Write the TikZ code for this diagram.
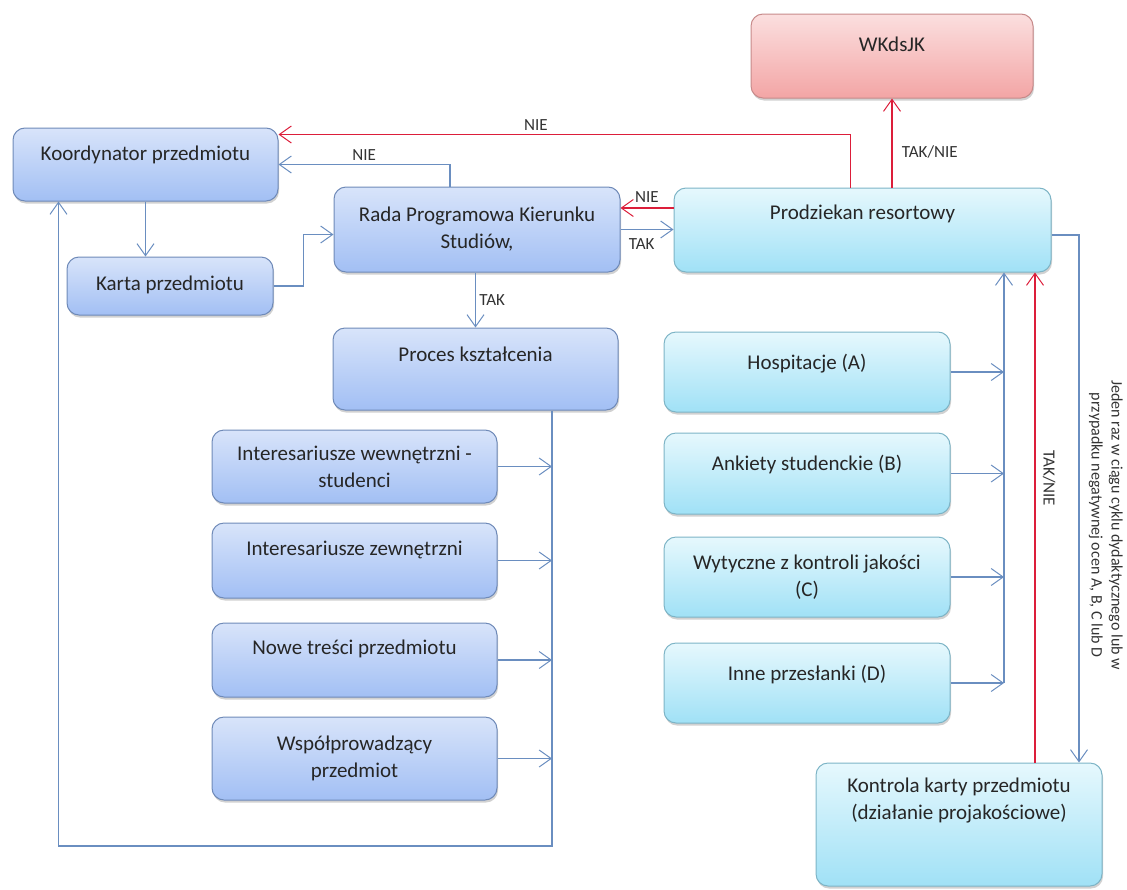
\documentclass[tikz,border=0pt]{standalone}
\usepackage{fontspec}
\setmainfont{Carlito}
\usetikzlibrary{arrows.meta}
\usetikzlibrary{shadows}

\definecolor{bluetop}{HTML}{D8E4FA}
\definecolor{bluebot}{HTML}{A2BFF4}
\definecolor{blueedge}{HTML}{6F8AB8}
\definecolor{cyantop}{HTML}{E6F8FD}
\definecolor{cyanbot}{HTML}{A0E1F6}
\definecolor{cyanedge}{HTML}{7DB4C6}
\definecolor{redtop}{HTML}{FBDFDF}
\definecolor{redbot}{HTML}{F3A5A5}
\definecolor{rededge}{HTML}{C78A8A}
\definecolor{linkblue}{HTML}{6A8EC0}
\definecolor{linkred}{HTML}{DC1E3A}

\tikzset{
  boxbase/.style={rounded corners=12pt, line width=1pt, align=center,
    font=\fontsize{21}{27}\selectfont, text=black!85,
    drop shadow={shadow xshift=1pt, shadow yshift=-2.5pt, opacity=.3, fill=black!60}},
  bluebox/.style={boxbase, draw=blueedge, top color=bluetop, bottom color=bluebot},
  cyanbox/.style={boxbase, draw=cyanedge, top color=cyantop, bottom color=cyanbot},
  redbox/.style={boxbase, draw=rededge, top color=redtop, bottom color=redbot},
  lift/.style={text height=16pt, text depth=#1},
  link/.style={draw=linkblue, line width=1.1pt, ->},
  nolink/.style={draw=linkred, line width=1.1pt, ->},
  lbl/.style={font=\fontsize{17}{20}\selectfont, text=black!80},
  note/.style={font=\fontsize{16}{20}\selectfont, text=black!80, align=center},
  >={Straight Barb[length=12pt,width=17pt,line width=1pt]}
}

\begin{document}
\begin{tikzpicture}[x=1pt, y=-1pt]
  \useasboundingbox (0,0) rectangle (1127,889);

  % left column
  \node[redbox, lift=26pt, minimum width=282pt, minimum height=84pt] (wkds) at (892,56) {WKdsJK};
  \node[bluebox, lift=25pt, minimum width=265pt, minimum height=73pt] (koord) at (145.5,164.5) {Koordynator przedmiotu};
  \node[bluebox, lift=8pt, minimum width=206pt, minimum height=58pt] (karta) at (170,286) {Karta przedmiotu};
  \node[bluebox, minimum width=286pt, minimum height=85pt] (rada) at (477,229.5) {Rada Programowa Kierunku\\Studiów,};
  \node[cyanbox, lift=38pt, minimum width=377pt, minimum height=84pt] (prodz) at (862.5,230) {Prodziekan resortowy};
  \node[bluebox, lift=32pt, minimum width=285pt, minimum height=82pt] (proces) at (475.5,369) {Proces kształcenia};

  \node[bluebox, minimum width=285pt, minimum height=73pt] (int1) at (354.5,466.5) {Interesariusze wewnętrzni -\\studenci};
  \node[bluebox, lift=27pt, minimum width=285pt, minimum height=75pt] (int2) at (354.5,560.5) {Interesariusze zewnętrzni};
  \node[bluebox, lift=27pt, minimum width=285pt, minimum height=74pt] (nowe) at (354.5,660) {Nowe treści przedmiotu};
  \node[bluebox, minimum width=285pt, minimum height=83pt] (wspol) at (354.5,758.5) {Współprowadzący\\przedmiot};

  % right column
  \node[cyanbox, lift=22pt, minimum width=286pt, minimum height=80pt] (hosp) at (807,372) {Hospitacje (A)};
  \node[cyanbox, lift=23pt, minimum width=286pt, minimum height=81pt] (ankiety) at (807,473.5) {Ankiety studenckie (B)};
  \node[cyanbox, minimum width=286pt, minimum height=80pt] (wytyczne) at (807,577) {Wytyczne z kontroli jakości\\(C)};
  \node[cyanbox, lift=22pt, minimum width=286pt, minimum height=80pt] (inne) at (807,683) {Inne przesłanki (D)};
  \node[cyanbox, text depth=52pt, minimum width=286pt, minimum height=123pt] (kontrola) at (959,824.5) {Kontrola karty przedmiotu\\(działanie projakościowe)};

  \coordinate (bus) at (552,846);
  \coordinate (col) at (1004,683);

  \draw[link] (koord) -- (koord |- karta.north);
  \draw[link] (karta.east) -- ++(30,0) |- ([yshift=-5pt]rada.west);
  \draw[link] ([xshift=-27pt]rada.north) |- (koord.east) node[lbl, pos=0.75, above] {NIE};
  \draw[nolink] ([xshift=-12pt]prodz.north) |- ([yshift=30pt]koord.east) node[lbl, pos=0.775, above] {NIE};
  \draw[nolink] (wkds |- prodz.north) -- (wkds.south) node[lbl, pos=0.4, right=6pt] {TAK/NIE};
  \draw[nolink] ([yshift=22pt]prodz.west) -- ([yshift=22pt]prodz.west -| rada.east) node[lbl, midway, above=2pt] {NIE};
  \draw[link] (rada.east) -- (rada.east -| prodz.west) node[lbl, pos=0.4, below=5pt] {TAK};
  \draw[link] (proces |- rada.south) -- (proces.north) node[lbl, midway, right] {TAK};

  \draw[link] (proces.south -| bus) -- (bus) -| ([xshift=46pt]koord.south west);
  \foreach \n in {int1,int2,nowe,wspol}
    \draw[link] (\n.east) -- (\n.east -| bus);

  \draw[link] (col) -- (col |- prodz.south);
  \foreach \n in {hosp,ankiety,wytyczne,inne}
    \draw[link] (\n.east) -- (\n.east -| col);

  \draw[nolink] ([xshift=76pt]kontrola.north) -- ([xshift=76pt]kontrola.north |- prodz.south) node[lbl, pos=0.58, rotate=-90, above=4pt] {TAK/NIE};
  \draw[link] ([yshift=-5pt]prodz.east) -| ([xshift=120pt]kontrola.north) node[note, pos=0.775, rotate=-90, above=6pt] {Jeden raz w ciągu cyklu dydaktycznego lub w\\przypadku negatywnej ocen A, B, C lub D};
\end{tikzpicture}
\end{document}
